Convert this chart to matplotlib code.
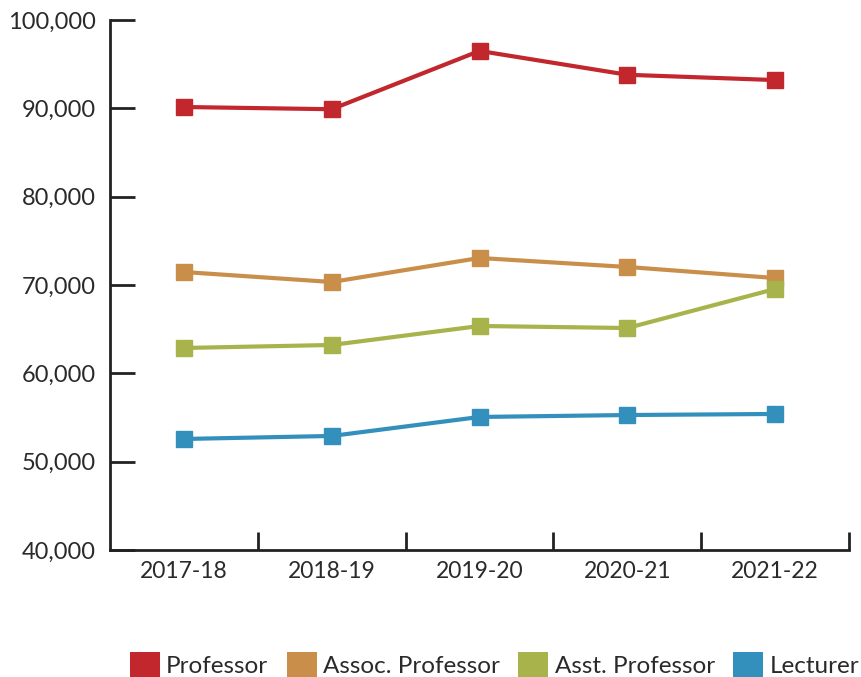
import numpy as np
import matplotlib.pyplot as plt
from matplotlib.patches import Patch
from matplotlib.ticker import FuncFormatter

years = ['2017-18', '2018-19', '2019-20', '2020-21', '2021-22']
professor = [90150, 89900, 96500, 93800, 93200]
assoc_prof = [71470, 70340, 73060, 72040, 70790]
asst_prof = [62870, 63210, 65360, 65130, 69550]
lecturer = [52570, 52910, 55060, 55280, 55400]

series = [('Professor', professor, '#C1272D'),
          ('Assoc. Professor', assoc_prof, '#C98F4A'),
          ('Asst. Professor', asst_prof, '#A8B34C'),
          ('Lecturer', lecturer, '#3390BC')]

plt.rcParams['font.family'] = ['Lato', 'DejaVu Sans']

fig = plt.figure(figsize=(8.61, 6.77), dpi=100)
ax = fig.add_axes([110/861, 1-550/677, (849-110)/861, (550-20)/677])

x = np.arange(len(years))
for name, vals, col in series:
	ax.plot(x, vals, color=col, lw=3, marker='s', markersize=11, solid_capstyle='butt', clip_on=False)

ax.set_xlim(-0.5, 4.5)
ax.set_ylim(40000, 100000)
ax.set_yticks(np.arange(40000, 100001, 10000))
ax.yaxis.set_major_formatter(FuncFormatter(lambda v, p: '{:,.0f}'.format(v)))
ax.set_xticks(x)
ax.set_xticklabels(years)
ax.set_xticks(np.arange(0.5, 4.6, 1), minor=True)
ax.tick_params(axis='x', which='major', length=0, pad=8, labelsize=16.5, colors='#2a2a2a')
ax.tick_params(axis='x', which='minor', direction='in', length=13, width=2, color='#222222')
ax.tick_params(axis='y', direction='in', length=18, width=2, pad=10, labelsize=17, color='#222222', labelcolor='#2a2a2a')
for s in ['top', 'right']:
	ax.spines[s].set_visible(False)
for s in ['left', 'bottom']:
	ax.spines[s].set_linewidth(2)
	ax.spines[s].set_color('#222222')

handles = [Patch(facecolor=col, edgecolor='none') for _, _, col in series]
fig.legend(handles=handles, labels=[n for n, _, _ in series], loc='lower right', bbox_to_anchor=(859/861, 0.0),
	ncol=4, frameon=False, fontsize=17.5, handlelength=1.25, handleheight=1.2, handletextpad=0.25, columnspacing=0.75,
	borderpad=0.0, borderaxespad=0.0, labelcolor='#2a2a2a')

plt.savefig('out.png', dpi=100)
